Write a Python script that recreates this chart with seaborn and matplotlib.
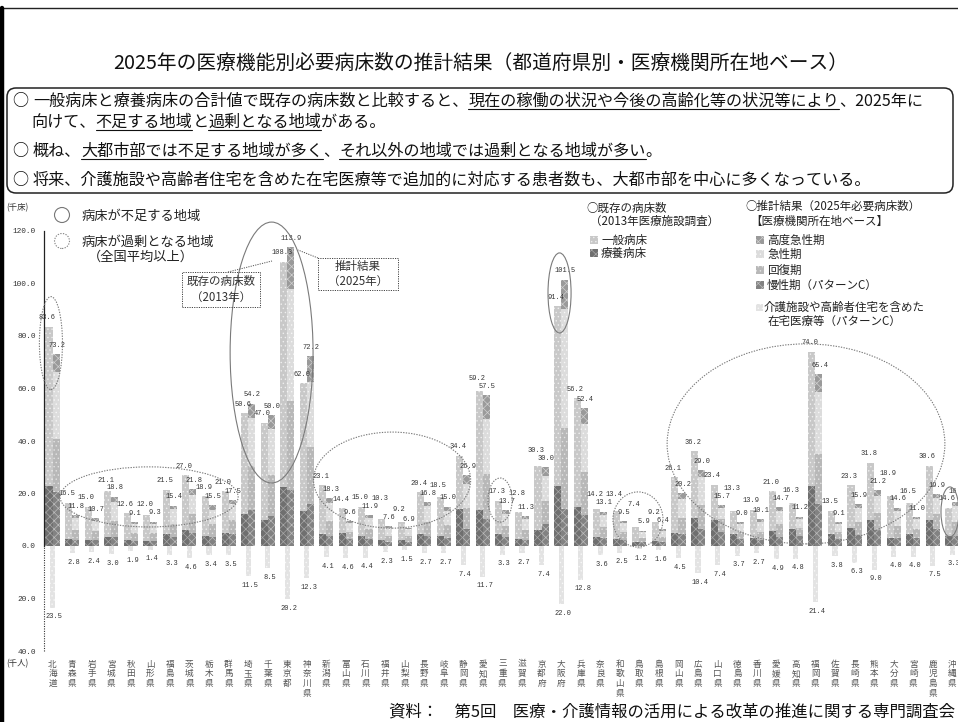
import matplotlib
matplotlib.use("Agg")
import matplotlib.pyplot as plt
import seaborn as sns
import pandas as pd
from matplotlib.patches import Ellipse, FancyBboxPatch, Rectangle, Circle
from matplotlib.lines import Line2D
from matplotlib.transforms import IdentityTransform, blended_transform_factory

# ---------------------------------------------------------------- data (千床 / 千人)
prefectures = [
    "北海道", "青森県", "岩手県", "宮城県", "秋田県", "山形県", "福島県", "茨城県",
    "栃木県", "群馬県", "埼玉県", "千葉県", "東京都", "神奈川県", "新潟県", "富山県",
    "石川県", "福井県", "山梨県", "長野県", "岐阜県", "静岡県", "愛知県", "三重県",
    "滋賀県", "京都府", "大阪府", "兵庫県", "奈良県", "和歌山県", "鳥取県", "島根県",
    "岡山県", "広島県", "山口県", "徳島県", "香川県", "愛媛県", "高知県", "福岡県",
    "佐賀県", "長崎県", "熊本県", "大分県", "宮崎県", "鹿児島県", "沖縄県",
]

# existing beds (2013): total of general + long-term care, and long-term care part
existing_total = [
    83.6, 16.5, 15.0, 21.1, 12.6, 12.0, 21.5, 27.0, 18.9, 21.0, 50.6, 47.0, 108.3, 62.0,
    23.1, 14.4, 15.0, 10.3, 9.2, 20.4, 18.5, 34.4, 59.2, 17.3, 12.8, 30.3, 91.4, 56.2,
    14.2, 13.4, 7.4, 9.2, 26.1, 36.2, 23.4, 13.3, 13.9, 21.0, 16.3, 74.0, 13.5, 23.3,
    31.8, 18.9, 16.5, 30.6, 14.6,
]
existing_ryoyo = [
    23.0, 2.5, 2.3, 3.4, 2.1, 2.0, 4.5, 6.0, 4.0, 5.0, 12.3, 10.0, 22.5, 13.4,
    4.7, 5.0, 4.0, 2.4, 2.2, 4.5, 3.7, 14.2, 13.9, 4.5, 2.8, 6.2, 22.8, 14.9,
    3.4, 2.8, 1.5, 2.0, 5.1, 10.8, 10.0, 4.5, 3.0, 5.7, 6.6, 22.8, 4.7, 6.9,
    9.8, 3.2, 4.5, 10.0, 4.0,
]

# estimated necessary beds (2025): total and the functional breakdown
estimate_total = [
    73.2, 11.8, 10.7, 18.8, 9.1, 9.3, 15.4, 21.8, 15.5, 17.5, 54.2, 50.0, 113.9, 72.2,
    18.3, 9.6, 11.9, 7.6, 6.9, 16.8, 15.0, 26.9, 57.5, 13.7, 11.3, 30.0, 101.5, 52.4,
    13.1, 9.5, 5.9, 6.4, 20.2, 29.0, 15.7, 9.0, 10.1, 14.7, 11.2, 65.4, 9.1, 15.9,
    21.2, 14.6, 11.0, 19.9, 16.7,
]
estimate_acute = [
    25.5, 4.5, 4.0, 7.2, 3.4, 3.5, 5.5, 7.4, 5.4, 5.9, 18.2, 17.3, 42.8, 24.8,
    7.0, 3.5, 4.2, 3.0, 2.5, 6.0, 5.2, 9.2, 20.9, 4.5, 4.1, 9.5, 45.1, 18.3,
    4.7, 3.5, 2.1, 2.3, 7.3, 10.5, 4.3, 2.9, 3.7, 5.2, 3.3, 23.7, 2.9, 5.1,
    6.6, 5.5, 3.6, 6.0, 6.1,
]
estimate_recovery = [
    20.1, 3.9, 3.5, 6.1, 3.0, 3.0, 4.9, 7.2, 5.1, 5.6, 16.9, 15.8, 34.0, 21.7,
    5.6, 2.6, 3.7, 2.3, 2.2, 5.3, 4.9, 7.9, 17.0, 4.3, 3.6, 8.6, 31.0, 16.5,
    4.2, 3.0, 1.7, 1.9, 6.1, 9.0, 4.6, 2.5, 3.2, 4.6, 3.1, 19.0, 3.0, 5.0,
    6.6, 4.8, 3.5, 6.0, 5.0,
]
estimate_chronic = [
    20.6, 2.3, 2.2, 3.5, 1.9, 2.0, 3.6, 5.0, 3.4, 4.4, 13.6, 11.3, 21.2, 15.9,
    3.9, 2.6, 2.8, 1.6, 1.6, 3.8, 3.2, 6.6, 10.4, 3.4, 2.4, 8.5, 14.0, 11.7,
    2.9, 2.2, 1.5, 1.6, 4.6, 6.6, 5.5, 2.8, 2.2, 3.6, 3.9, 15.9, 2.5, 4.2,
    6.0, 2.9, 3.0, 6.3, 4.0,
]

# patients additionally cared for at home / in care facilities (千人)
home_care = [
    23.5, 2.8, 2.4, 3.0, 1.9, 1.4, 3.3, 4.6, 3.4, 3.5, 11.5, 8.5, 20.2, 12.3,
    4.1, 4.6, 4.4, 2.3, 1.5, 2.7, 2.7, 7.4, 11.7, 3.3, 2.7, 7.4, 22.0, 12.8,
    3.6, 2.5, 1.2, 1.6, 4.5, 10.4, 7.4, 3.7, 2.7, 4.9, 4.8, 21.4, 3.8, 6.3,
    9.0, 4.0, 4.0, 7.5, 3.3,
]

y_ticks = [-40, -20, 0, 20, 40, 60, 80, 100, 120]

# ---------------------------------------------------------------- style
sns.set_style("white")
JP = ["Noto Sans CJK JP", "DejaVu Sans"]
NUM = ["Liberation Mono", "DejaVu Sans Mono"]
plt.rcParams["font.family"] = JP
plt.rcParams["hatch.linewidth"] = 0.5

W, H = 958, 722
fig = plt.figure(figsize=(W / 100, H / 100), dpi=100)
fig.patch.set_facecolor("white")
PX = IdentityTransform()


def fy(y):
    """top-down pixel row -> display y"""
    return H - y


ax = fig.add_axes([44 / W, (H - 651) / H, (958 - 44) / W, (651 - 231) / H])

# (fill, stipple colour, hatch)
S_GENERAL = ("#c8c8c8", "#eeeeee", "....")
S_RYOYO = ("#6f6f6f", "#a8a8a8", "xxxx")
S_HIGH = ("#9a9a9a", "#d0d0d0", "xxxx")
S_ACUTE = ("#dcdcdc", "#f6f6f6", "....")
S_RECOV = ("#b8b8b8", "#e2e2e2", "....")
S_CHRON = ("#828282", "#bdbdbd", "xxxx")
S_HOME = ("#e3e3e3", "#f7f7f7", "....")


def stipple(patches, style):
    for p in patches:
        p.set_facecolor(style[0])
        p.set_edgecolor(style[1])
        p.set_linewidth(0)
        p.set_hatch(style[2])


# layered stacks: each layer is the cumulative height from the bottom
cum_acute = [c + r + a for c, r, a in zip(estimate_chronic, estimate_recovery, estimate_acute)]
cum_recov = [c + r for c, r in zip(estimate_chronic, estimate_recovery)]
zeros = [0.0] * len(prefectures)
layers = [
    (existing_total, estimate_total, S_GENERAL, S_HIGH),
    (existing_ryoyo, cum_acute, S_RYOYO, S_ACUTE),
    (zeros, cum_recov, S_RYOYO, S_RECOV),
    (zeros, estimate_chronic, S_RYOYO, S_CHRON),
]

n = len(prefectures)
for ex_vals, est_vals, s_ex, s_est in layers:
    df = pd.DataFrame({
        "pref": prefectures * 2,
        "period": ["2013"] * n + ["2025"] * n,
        "value": list(ex_vals) + list(est_vals),
    })
    before = len(ax.patches)
    sns.barplot(data=df, x="pref", y="value", hue="period", hue_order=["2013", "2025"],
                order=prefectures, palette=[s_ex[0], s_est[0]], width=0.72, dodge=True,
                saturation=1, linewidth=0, errorbar=None, legend=False, ax=ax)
    new = ax.patches[before:]
    stipple(new[:n], s_ex)
    stipple(new[n:], s_est)

neg = pd.DataFrame({"pref": prefectures, "value": [-v for v in home_care]})
before = len(ax.patches)
sns.barplot(data=neg, x="pref", y="value", order=prefectures, color=S_HOME[0], width=0.26,
            saturation=1, linewidth=0, errorbar=None, ax=ax)
stipple(ax.patches[before:], S_HOME)

ax.set_xlim(-0.435, 46.29)
ax.set_ylim(-40, 120)
ax.set_xlabel("")
ax.set_ylabel("")
ax.set_xticks([])
ax.set_yticks(y_ticks)
ax.set_yticklabels([f"{abs(v):.1f}" for v in y_ticks], fontfamily=NUM, fontsize=5.6, color="#333")
ax.tick_params(axis="y", length=0, pad=6)
for s in ["top", "right", "bottom"]:
    ax.spines[s].set_visible(False)
ax.spines["left"].set_bounds(0, 120)
ax.spines["left"].set_color("#222")
ax.spines["left"].set_linewidth(0.9)
x0 = ax.get_xlim()[0]
ax.plot([x0, x0], [-40, 0], ls=(0, (1, 1.2)), color="#333", lw=0.8, clip_on=False)

# value labels above the bars, nudged upward where they would collide
LABEL_W, LABEL_H, STEP = 0.68, 2.9, 3.0
placed = []


def free_y(x, y):
    moved = True
    while moved:
        moved = False
        for px, py in placed:
            if abs(px - x) < LABEL_W and abs(py - y) < LABEL_H:
                y = py + STEP
                moved = True
    placed.append((x, y))
    return y


for i in range(n):
    ex, est = existing_total[i], estimate_total[i]
    first = [(i - 0.27, ex), (i + 0.22, est)]
    first.sort(key=lambda t: t[1])
    for xx, val in first:
        yy = free_y(xx, val + 2.0)
        ax.text(xx, yy, f"{val:.1f}", ha="center", va="bottom",
                fontfamily=NUM, fontsize=5.0, color="#333")
    ax.text(i + 0.1, -home_care[i] - 2.2, f"{home_care[i]:.1f}", ha="center",
            va="top", fontfamily=NUM, fontsize=5.0, color="#333")

# regional groupings: shortage (solid) and surplus (dotted)
groups = [
    (-0.08, 77.3, 1.18, 35.4, ":"),
    (4.94, 18.7, 9.1, 22.9, ":"),
    (11.2, 73.7, 4.24, 99.4, "-"),
    (17.36, 25.1, 8.03, 36.6, ":"),
    (22.88, 17.5, 1.23, 16.8, ":"),
    (25.92, 96.4, 1.18, 30.5, "-"),
    (29.93, 10.1, 2.56, 21.0, ":"),
    (38.52, 38.9, 14.2, 76.2, ":"),
    (45.88, 13.0, 0.92, 19.0, "-"),
]
for cx, cy, w, h, ls in groups:
    ax.add_patch(Ellipse((cx, cy), w, h, fill=False, ec="#7a7a7a", lw=0.8,
                         ls=ls if ls == "-" else (0, (1.2, 1.2)), zorder=5, clip_on=False))

# vertical prefecture names
tr = blended_transform_factory(ax.transData, PX)
for i, name in enumerate(prefectures):
    for k, ch in enumerate(name):
        ax.text(i, fy(664 + 9.8 * k), ch, transform=tr, ha="center", va="center",
                fontsize=6.2, color="#555", clip_on=False)

# units
fig.text(6, fy(208), "(千床)", transform=PX, fontsize=6, color="#333", va="center")
fig.text(6, fy(664), "(千人)", transform=PX, fontsize=6, color="#333", va="center")

# ---------------------------------------------------------------- frame and header
fig.add_artist(Line2D([0, W], [fy(8), fy(8)], transform=PX, color="#222", lw=1.0))
fig.add_artist(Line2D([2, 2], [fy(8), 0], transform=PX, color="#000", lw=3.2))

fig.text(481, fy(63), "2025年の医療機能別必要病床数の推計結果（都道府県別・医療機関所在地ベース）",
         transform=PX, ha="center", va="center", fontsize=14.2, color="#111")

fig.add_artist(FancyBboxPatch((7, fy(193)), 946, 105, boxstyle="round,pad=0,rounding_size=9",
                              transform=PX, fill=False, ec="#222", lw=1.1))

renderer = fig.canvas.get_renderer()


def text_runs(x, base, runs, size=11.6, color="#111"):
    cx = x
    for s, ul in runs:
        t = fig.text(cx, fy(base), s, transform=PX, fontsize=size, va="baseline",
                     ha="left", color=color)
        bb = t.get_window_extent(renderer)
        if ul:
            fig.add_artist(Line2D([bb.x0, bb.x1], [fy(base + 3), fy(base + 3)],
                                  transform=PX, color=color, lw=0.8))
        cx = bb.x1


text_runs(12, 106, [("○", False)])
text_runs(33, 106, [("一般病床と療養病床の合計値で既存の病床数と比較すると、", False),
                    ("現在の稼働の状況や今後の高齢化等の状況等により", True),
                    ("、2025年に", False)])
text_runs(31, 127, [("向けて、", False), ("不足する地域", True), ("と", False),
                    ("過剰となる地域", True), ("がある。", False)])
text_runs(12, 156, [("○", False)])
text_runs(33, 156, [("概ね、", False), ("大都市部では不足する地域が多く", True), ("、", False),
                    ("それ以外の地域では過剰となる地域が多い", True), ("。", False)])
text_runs(12, 185, [("○", False)])
text_runs(33, 185, [("将来、介護施設や高齢者住宅を含めた在宅医療等で追加的に対応する患者数も、大都市部を中心に多くなっている。", False)])

# ---------------------------------------------------------------- legends
fig.add_artist(Circle((62, fy(215)), 7.5, transform=PX, fill=False, ec="#777", lw=0.8))
fig.add_artist(Circle((62, fy(241)), 7.5, transform=PX, fill=False, ec="#888", lw=0.8,
                      ls=(0, (1.2, 1.2))))
fig.text(82, fy(216), "病床が不足する地域", transform=PX, fontsize=9.5, va="center", color="#222")
fig.text(82, fy(242), "病床が過剰となる地域", transform=PX, fontsize=9.5, va="center", color="#222")
fig.text(88, fy(257), "（全国平均以上）", transform=PX, fontsize=9.5, va="center", color="#222")


def swatch(x, y, style, size=8):
    r = Rectangle((x, fy(y + size / 2)), size, size, transform=PX, lw=0,
                  facecolor=style[0], edgecolor=style[1], hatch=style[2])
    fig.add_artist(r)


fig.text(586, fy(208), "○既存の病床数", transform=PX, fontsize=8.3, va="center", color="#222")
fig.text(590, fy(221), "（2013年医療施設調査）", transform=PX, fontsize=8.3, va="center", color="#222")
for yy, st, lab in [(240, S_GENERAL, "一般病床"), (253, S_RYOYO, "療養病床")]:
    swatch(590, yy, st)
    fig.text(601, fy(yy), lab, transform=PX, fontsize=8.3, va="center", color="#222")

fig.text(745, fy(206), "○推計結果（2025年必要病床数）", transform=PX, fontsize=8.3, va="center", color="#222")
fig.text(750, fy(221), "【医療機関所在地ベース】", transform=PX, fontsize=8.3, va="center", color="#222")
for yy, st, lab in [(240, S_HIGH, "高度急性期"), (254, S_ACUTE, "急性期"),
                    (270, S_RECOV, "回復期"), (285, S_CHRON, "慢性期（パターンC）")]:
    swatch(756, yy, st)
    fig.text(767, fy(yy), lab, transform=PX, fontsize=8.3, va="center", color="#222")
swatch(756, 307, S_HOME, size=7)
fig.text(764, fy(307), "介護施設や高齢者住宅を含めた", transform=PX, fontsize=8.3, va="center", color="#222")
fig.text(768, fy(321), "在宅医療等（パターンC）", transform=PX, fontsize=8.3, va="center", color="#222")

# call-out boxes
for (bx, by, bw, bh), label in [((182, 272, 78, 35), "既存の病床数\n（2013年）"),
                                ((318, 258, 80, 32), "推計結果\n（2025年）")]:
    fig.add_artist(Rectangle((bx, fy(by + bh)), bw, bh, transform=PX, fill=False,
                             ec="#444", lw=0.7, ls=(0, (1.2, 1.2))))
    fig.text(bx + bw / 2, fy(by + bh / 2), label, transform=PX, ha="center", va="center",
             fontsize=8.3, color="#333", linespacing=1.25)
fig.add_artist(Line2D([228, 272], [fy(272), fy(261)], transform=PX, color="#555", lw=0.7,
                      ls=(0, (1.2, 1.2))))
fig.add_artist(Line2D([318, 298], [fy(258), fy(250)], transform=PX, color="#555", lw=0.7,
                      ls=(0, (1.2, 1.2))))

fig.text(955, fy(712), "資料：　第5回　医療・介護情報の活用による改革の推進に関する専門調査会",
         transform=PX, ha="right", va="center", fontsize=11.8, color="#111")

fig.savefig("out.png", dpi=100, facecolor="white")
